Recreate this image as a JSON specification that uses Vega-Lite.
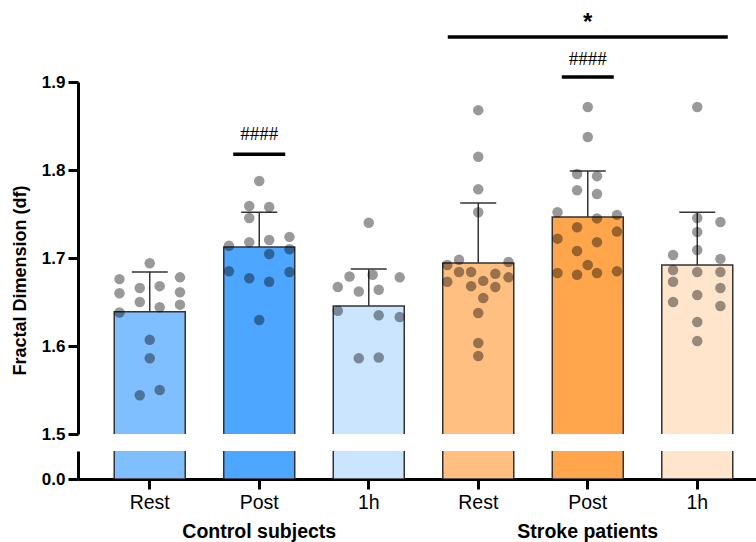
{
  "$schema": "https://vega.github.io/schema/vega-lite/v6.json",
  "padding": {"left": 11, "top": 11, "right": 0, "bottom": 0},
  "background": "white",
  "config": {
    "view": {"stroke": null},
    "font": "Liberation Sans",
    "axis": {"domainColor": "black", "tickColor": "black", "labelColor": "black", "titleColor": "black", "grid": false}
  },
  "datasets": {
    "bars": [
      {"key": "C-Rest", "mean": 1.639, "upper": 1.684},
      {"key": "C-Post", "mean": 1.7125, "upper": 1.752},
      {"key": "C-1h", "mean": 1.6455, "upper": 1.6875},
      {"key": "S-Rest", "mean": 1.6943, "upper": 1.7625},
      {"key": "S-Post", "mean": 1.7466, "upper": 1.799},
      {"key": "S-1h", "mean": 1.692, "upper": 1.752}
    ],
    "dots": [
      {"key": "C-Rest", "v": 1.694, "dx": 0},
      {"key": "C-Rest", "v": 1.678, "dx": 0.85},
      {"key": "C-Rest", "v": 1.676, "dx": -0.85},
      {"key": "C-Rest", "v": 1.668, "dx": 0.28},
      {"key": "C-Rest", "v": 1.666, "dx": -0.28},
      {"key": "C-Rest", "v": 1.661, "dx": 0.85},
      {"key": "C-Rest", "v": 1.660, "dx": -0.85},
      {"key": "C-Rest", "v": 1.650, "dx": -0.28},
      {"key": "C-Rest", "v": 1.647, "dx": 0.85},
      {"key": "C-Rest", "v": 1.644, "dx": 0.28},
      {"key": "C-Rest", "v": 1.638, "dx": -0.85},
      {"key": "C-Rest", "v": 1.607, "dx": 0},
      {"key": "C-Rest", "v": 1.586, "dx": 0},
      {"key": "C-Rest", "v": 1.550, "dx": 0.28},
      {"key": "C-Rest", "v": 1.544, "dx": -0.28},
      {"key": "C-Post", "v": 1.7875, "dx": 0},
      {"key": "C-Post", "v": 1.759, "dx": -0.28},
      {"key": "C-Post", "v": 1.758, "dx": 0.28},
      {"key": "C-Post", "v": 1.7455, "dx": -0.28},
      {"key": "C-Post", "v": 1.724, "dx": 0.85},
      {"key": "C-Post", "v": 1.7205, "dx": 0.28},
      {"key": "C-Post", "v": 1.718, "dx": -0.28},
      {"key": "C-Post", "v": 1.714, "dx": -0.85},
      {"key": "C-Post", "v": 1.710, "dx": 0.85},
      {"key": "C-Post", "v": 1.7045, "dx": 0.28},
      {"key": "C-Post", "v": 1.685, "dx": -0.85},
      {"key": "C-Post", "v": 1.684, "dx": 0.85},
      {"key": "C-Post", "v": 1.677, "dx": -0.28},
      {"key": "C-Post", "v": 1.673, "dx": 0.28},
      {"key": "C-Post", "v": 1.6295, "dx": 0},
      {"key": "C-1h", "v": 1.740, "dx": 0},
      {"key": "C-1h", "v": 1.679, "dx": -0.54},
      {"key": "C-1h", "v": 1.681, "dx": 0.11},
      {"key": "C-1h", "v": 1.678, "dx": 0.87},
      {"key": "C-1h", "v": 1.667, "dx": -0.87},
      {"key": "C-1h", "v": 1.662, "dx": -0.28},
      {"key": "C-1h", "v": 1.664, "dx": 0.28},
      {"key": "C-1h", "v": 1.640, "dx": -0.87},
      {"key": "C-1h", "v": 1.635, "dx": 0.28},
      {"key": "C-1h", "v": 1.633, "dx": 0.87},
      {"key": "C-1h", "v": 1.586, "dx": -0.28},
      {"key": "C-1h", "v": 1.587, "dx": 0.28},
      {"key": "S-Rest", "v": 1.868, "dx": 0},
      {"key": "S-Rest", "v": 1.815, "dx": 0},
      {"key": "S-Rest", "v": 1.778, "dx": 0},
      {"key": "S-Rest", "v": 1.752, "dx": 0},
      {"key": "S-Rest", "v": 1.698, "dx": -0.54},
      {"key": "S-Rest", "v": 1.6955, "dx": 0.85},
      {"key": "S-Rest", "v": 1.692, "dx": -0.87},
      {"key": "S-Rest", "v": 1.684, "dx": -0.54},
      {"key": "S-Rest", "v": 1.684, "dx": -0.2},
      {"key": "S-Rest", "v": 1.682, "dx": 0.48},
      {"key": "S-Rest", "v": 1.678, "dx": 0.85},
      {"key": "S-Rest", "v": 1.674, "dx": 0.14},
      {"key": "S-Rest", "v": 1.673, "dx": -0.87},
      {"key": "S-Rest", "v": 1.668, "dx": -0.2},
      {"key": "S-Rest", "v": 1.667, "dx": 0.48},
      {"key": "S-Rest", "v": 1.6545, "dx": 0.14},
      {"key": "S-Rest", "v": 1.6375, "dx": 0},
      {"key": "S-Rest", "v": 1.6034, "dx": 0},
      {"key": "S-Rest", "v": 1.5886, "dx": 0},
      {"key": "S-Post", "v": 1.8716, "dx": 0},
      {"key": "S-Post", "v": 1.8375, "dx": 0},
      {"key": "S-Post", "v": 1.7955, "dx": -0.3},
      {"key": "S-Post", "v": 1.793, "dx": 0.26},
      {"key": "S-Post", "v": 1.777, "dx": -0.3},
      {"key": "S-Post", "v": 1.7727, "dx": 0.26},
      {"key": "S-Post", "v": 1.752, "dx": -0.85},
      {"key": "S-Post", "v": 1.749, "dx": 0.82},
      {"key": "S-Post", "v": 1.745, "dx": 0.26},
      {"key": "S-Post", "v": 1.735, "dx": -0.3},
      {"key": "S-Post", "v": 1.730, "dx": 0.82},
      {"key": "S-Post", "v": 1.722, "dx": -0.85},
      {"key": "S-Post", "v": 1.718, "dx": 0.26},
      {"key": "S-Post", "v": 1.708, "dx": -0.3},
      {"key": "S-Post", "v": 1.692, "dx": 0},
      {"key": "S-Post", "v": 1.685, "dx": 0.82},
      {"key": "S-Post", "v": 1.683, "dx": -0.85},
      {"key": "S-Post", "v": 1.683, "dx": 0.26},
      {"key": "S-Post", "v": 1.681, "dx": -0.3},
      {"key": "S-1h", "v": 1.8716, "dx": 0},
      {"key": "S-1h", "v": 1.7455, "dx": 0},
      {"key": "S-1h", "v": 1.741, "dx": 0.65},
      {"key": "S-1h", "v": 1.7295, "dx": 0},
      {"key": "S-1h", "v": 1.709, "dx": 0},
      {"key": "S-1h", "v": 1.7034, "dx": -0.68},
      {"key": "S-1h", "v": 1.699, "dx": 0.65},
      {"key": "S-1h", "v": 1.6864, "dx": -0.68},
      {"key": "S-1h", "v": 1.684, "dx": 0},
      {"key": "S-1h", "v": 1.684, "dx": 0.65},
      {"key": "S-1h", "v": 1.673, "dx": -0.68},
      {"key": "S-1h", "v": 1.666, "dx": 0.65},
      {"key": "S-1h", "v": 1.658, "dx": 0},
      {"key": "S-1h", "v": 1.650, "dx": -0.68},
      {"key": "S-1h", "v": 1.6455, "dx": 0.65},
      {"key": "S-1h", "v": 1.6273, "dx": 0},
      {"key": "S-1h", "v": 1.6057, "dx": 0}
    ],
    "hashes": [
      {"key": "C-Post", "line": 1.818, "ty": 1.841, "label": "####"},
      {"key": "S-Post", "line": 1.9057, "ty": 1.926, "label": "####"}
    ],
    "star": [
      {"key": "S-Post", "line": 1.951, "ty": 1.967, "label": "*"}
    ],
    "groups": [
      {"key": "C-Post", "label": "Control subjects"},
      {"key": "S-Post", "label": "Stroke patients"}
    ]
  },
  "resolve": {"scale": {"x": "independent"}},
  "vconcat": [
    {
      "resolve": {"scale": {"x": "independent"}},
      "vconcat": [
        {
          "width": 691,
          "height": 352,
          "resolve": {"scale": {"x": "independent"}},
          "layer": [
            {
              "encoding": {
                "x": {"field": "key", "type": "nominal", "sort": null,
                      "scale": {"type": "band", "domain": ["C-Rest", "C-Post", "C-1h", "S-Rest", "S-Post", "S-1h"], "paddingInner": 0.35, "paddingOuter": 0.33},
                      "axis": null}
              },
              "layer": [
                {
                  "data": {"name": "bars"},
                  "mark": {"type": "bar", "clip": true, "stroke": "#333333", "strokeWidth": 1.5, "size": 71},
                  "encoding": {
                    "y": {"field": "mean", "type": "quantitative",
                          "scale": {"domain": [1.5, 1.9], "zero": false, "nice": false},
                          "axis": {"values": [1.5, 1.6, 1.7, 1.8, 1.9], "format": ".1f", "title": "Fractal Dimension (df)",
                                   "titleFontSize": 18, "titleFontWeight": "bold", "titleFont": "Liberation Sans", "titleY": 198, "titlePadding": 12,
                                   "labelFontSize": 17, "labelFontWeight": "bold", "labelFont": "Liberation Sans", "labelPadding": 3,
                                   "domainWidth": 3, "tickWidth": 3, "tickSize": 10}},
                    "y2": {"datum": 0},
                    "color": {"field": "key", "type": "nominal", "legend": null,
                              "scale": {"domain": ["C-Rest", "C-Post", "C-1h", "S-Rest", "S-Post", "S-1h"],
                                        "range": ["#80bfff", "#4da6ff", "#cce5ff", "#ffbf80", "#ffa64d", "#ffe5cc"]}}
                  }
                },
                {
                  "data": {"name": "bars"},
                  "mark": {"type": "rule", "color": "#333333", "strokeWidth": 1.5},
                  "encoding": {"y": {"field": "mean", "type": "quantitative"}, "y2": {"field": "upper"}}
                },
                {
                  "data": {"name": "bars"},
                  "mark": {"type": "tick", "color": "#333333", "opacity": 1, "thickness": 1.5, "size": 36, "orient": "horizontal"},
                  "encoding": {"y": {"field": "upper", "type": "quantitative"}}
                },
                {
                  "data": {"name": "hashes"},
                  "mark": {"type": "tick", "color": "black", "opacity": 1, "thickness": 3.5, "size": 52, "orient": "horizontal"},
                  "encoding": {"y": {"field": "line", "type": "quantitative"}}
                },
                {
                  "data": {"name": "hashes"},
                  "mark": {"type": "text", "font": "Liberation Sans Narrow", "fontSize": 19, "color": "black", "baseline": "middle"},
                  "encoding": {"y": {"field": "ty", "type": "quantitative"}, "text": {"field": "label"}}
                },
                {
                  "data": {"name": "star"},
                  "mark": {"type": "tick", "color": "black", "opacity": 1, "thickness": 3.5, "size": 280, "orient": "horizontal"},
                  "encoding": {"y": {"field": "line", "type": "quantitative"}}
                },
                {
                  "data": {"name": "star"},
                  "mark": {"type": "text", "font": "Liberation Sans", "fontWeight": "bold", "fontSize": 24, "color": "black", "baseline": "middle"},
                  "encoding": {"y": {"field": "ty", "type": "quantitative"}, "text": {"field": "label"}}
                }
              ]
            },
            {
              "data": {"name": "dots"},
              "mark": {"type": "circle", "size": 110, "color": "#000000", "opacity": 0.4, "clip": true},
              "encoding": {
                "x": {"field": "key", "type": "nominal", "sort": null,
                      "scale": {"type": "band", "domain": ["C-Rest", "C-Post", "C-1h", "S-Rest", "S-Post", "S-1h"], "paddingInner": 0.35, "paddingOuter": 0.33},
                      "axis": null},
                "y": {"field": "v", "type": "quantitative"},
                "xOffset": {"field": "dx", "type": "quantitative", "scale": {"domain": [-1, 1]}}
              }
            }
          ]
        },
        {
          "width": 691,
          "height": 28,
          "data": {"name": "bars"},
          "mark": {"type": "bar", "clip": true, "stroke": "#333333", "strokeWidth": 1.5, "size": 71},
          "encoding": {
            "x": {"field": "key", "type": "nominal", "sort": null,
                  "scale": {"type": "band", "domain": ["C-Rest", "C-Post", "C-1h", "S-Rest", "S-Post", "S-1h"], "paddingInner": 0.35, "paddingOuter": 0.33},
                  "axis": {"title": null, "labelExpr": "split(datum.value, '-')[1]", "labelAngle": 0,
                           "labelFontSize": 19.5, "labelFont": "Liberation Sans", "labelPadding": 4,
                           "domainWidth": 3, "tickWidth": 3, "tickSize": 10}},
            "y": {"field": "mean", "type": "quantitative",
                  "scale": {"domain": [0, 0.1], "nice": false},
                  "axis": {"values": [0], "format": ".1f", "title": null,
                           "labelFontSize": 17, "labelFontWeight": "bold", "labelFont": "Liberation Sans", "labelPadding": 3,
                           "domainWidth": 3, "tickWidth": 3, "tickSize": 10}},
            "color": {"field": "key", "type": "nominal", "legend": null,
                      "scale": {"domain": ["C-Rest", "C-Post", "C-1h", "S-Rest", "S-Post", "S-1h"],
                                "range": ["#80bfff", "#4da6ff", "#cce5ff", "#ffbf80", "#ffa64d", "#ffe5cc"]}}
          }
        }
      ],
      "spacing": 9
    },
    {
      "width": 691,
      "height": 20,
      "data": {"name": "groups"},
      "mark": {"type": "text", "font": "Liberation Sans", "fontWeight": "bold", "fontSize": 19.5, "color": "black", "baseline": "middle"},
      "encoding": {
        "x": {"field": "key", "type": "nominal", "sort": null,
              "scale": {"type": "band", "domain": ["C-Rest", "C-Post", "C-1h", "S-Rest", "S-Post", "S-1h"], "paddingInner": 0.35, "paddingOuter": 0.33},
              "axis": null},
        "text": {"field": "label"}
      }
    }
  ],
  "spacing": 10
}
